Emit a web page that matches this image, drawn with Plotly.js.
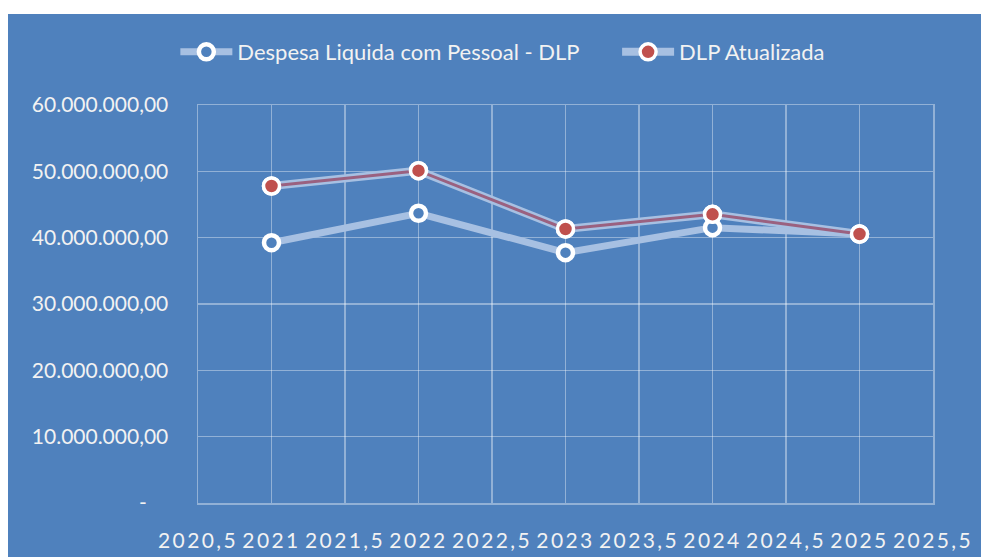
<!DOCTYPE html>
<html>
<head>
<meta charset="utf-8">
<script src="https://cdn.plot.ly/plotly-3.0.1.min.js"></script>
<style>
html,body{margin:0;padding:0;background:#ffffff;}
#chart{position:absolute;left:8px;top:14px;width:973px;height:543px;}
#chart .xtick text{letter-spacing:2.4px;}
</style>
</head>
<body>
<div id="chart"></div>
<script>
// Data
const years = [2021, 2022, 2023, 2024, 2025];
const despesaLiquida = [39240000, 43680000, 37740000, 41510000, 40550000];
const dlpAtualizada = [47790000, 50100000, 41310000, 43520000, 40550000];
const seriesNames = ["Despesa Liquida com Pessoal - DLP", "DLP Atualizada"];
const xTickVals = [2020.5, 2021, 2021.5, 2022, 2022.5, 2023, 2023.5, 2024, 2024.5, 2025, 2025.5];
const xTickText = ["2020,5", "2021", "2021,5", "2022", "2022,5", "2023", "2023,5", "2024", "2024,5", "2025", "2025,5"];
const yTickVals = [0, 10000000, 20000000, 30000000, 40000000, 50000000, 60000000];
const yTickText = ["-\u00a0\u00a0\u00a0\u00a0", "10.000.000,00", "20.000.000,00", "30.000.000,00", "40.000.000,00", "50.000.000,00", "60.000.000,00"];

const bg = "#4f81bd";
const gridCol = "rgba(255,255,255,0.38)";
const lightLine = "#a7c0e2";
const txt = "#f2f2f2";

const traces = [
  {
    x: years, y: despesaLiquida, name: seriesNames[0], type: "scatter", mode: "lines+markers",
    legend: "legend",
    line: {color: lightLine, width: 7},
    marker: {symbol: "circle", size: 15, color: bg, line: {color: "#ffffff", width: 4.5}}
  },
  {
    x: years, y: dlpAtualizada, name: seriesNames[1], type: "scatter", mode: "lines+markers",
    legend: "legend2", legendgroup: "dlp",
    line: {color: lightLine, width: 8},
    marker: {symbol: "circle", size: 16, color: "#c0504d", line: {color: "#ffffff", width: 3.5}}
  },
  {
    x: years, y: dlpAtualizada, name: seriesNames[1], type: "scatter", mode: "lines",
    legend: "legend2", legendgroup: "dlp", showlegend: false, hoverinfo: "skip",
    line: {color: "rgba(150,65,95,0.75)", width: 3}
  },
  {
    x: years, y: dlpAtualizada, name: seriesNames[1], type: "scatter", mode: "markers",
    legend: "legend2", legendgroup: "dlp", showlegend: false,
    marker: {symbol: "circle", size: 16, color: "#c0504d", line: {color: "#ffffff", width: 3.5}}
  }
];

const legendBase = {
  orientation: "h", xanchor: "left", y: 0.93, yanchor: "middle",
  xref: "container", yref: "container", font: {size: 22, color: txt},
  bgcolor: "rgba(0,0,0,0)", itemwidth: 52
};

const layout = {
  width: 973, height: 543,
  paper_bgcolor: bg, plot_bgcolor: bg,
  margin: {l: 190, r: 48, t: 91, b: 54},
  font: {family: "Lato, 'Open Sans', sans-serif", color: txt, size: 21},
  showlegend: true,
  legend: Object.assign({}, legendBase, {x: 0.172}),
  legend2: Object.assign({}, legendBase, {x: 0.626}),
  xaxis: {
    range: [2020.5, 2025.5], tickvals: xTickVals, ticktext: xTickText, tickangle: 0,
    showgrid: true, gridcolor: gridCol, gridwidth: 1.5, zeroline: false,
    showline: true, mirror: true, linecolor: gridCol, linewidth: 1.5,
    ticks: "", ticklabelstandoff: 18, tickfont: {size: 21, color: txt}
  },
  yaxis: {
    range: [0, 60000000], tickvals: yTickVals, ticktext: yTickText,
    showgrid: true, gridcolor: gridCol, gridwidth: 1.5, zeroline: false,
    showline: true, mirror: true, linecolor: gridCol, linewidth: 1.5,
    ticks: "", ticklabelstandoff: 24, tickfont: {size: 21, color: txt}
  }
};

Plotly.newPlot("chart", traces, layout, {displayModeBar: false, staticPlot: true});
</script>
</body>
</html>
